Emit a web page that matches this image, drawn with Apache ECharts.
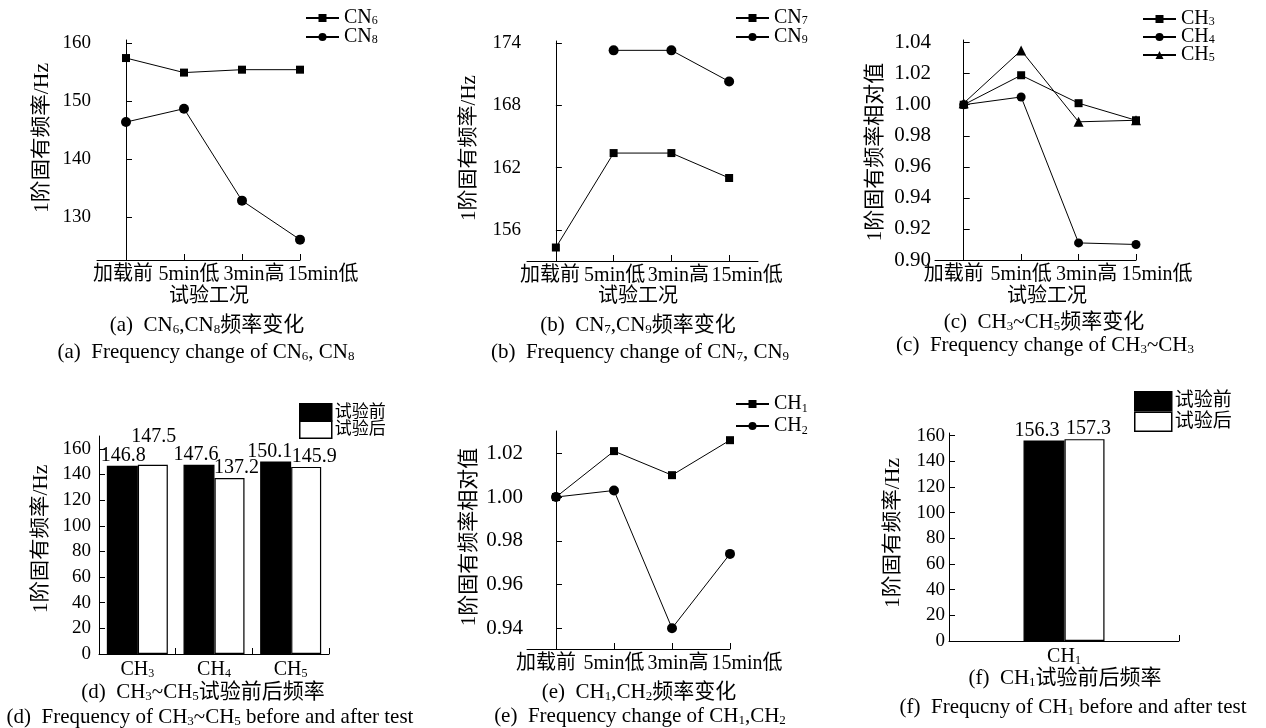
<!DOCTYPE html>
<html>
<head>
<meta charset="utf-8">
<script src="https://cdn.jsdelivr.net/npm/echarts@6/dist/echarts.min.js"></script>
<style>
  html, body { margin: 0; padding: 0; background: #fff; }
  #main { width: 1266px; height: 728px; }
</style>
</head>
<body>
<div id="main"></div>
<script>
// 试验工况
const stages = ['加载前', '5min低', '3min高', '15min低'];
// (a)
const cn6 = [157.4, 154.9, 155.4, 155.4];
const cn8 = [146.4, 148.7, 132.9, 126.2];
// (b)
const cn7 = [154.3, 163.4, 163.4, 161.0];
const cn9 = [null, 173.3, 173.3, 170.3];
// (c)
const ch3 = [1.000, 1.019, 1.001, 0.990];
const ch4 = [1.000, 1.005, 0.911, 0.910];
const ch5 = [1.001, 1.035, 0.989, 0.990];
// (d)
const barCatsD = ['CH3', 'CH4', 'CH5'];
const beforeD = [146.8, 147.6, 150.1];
const afterD = [147.5, 137.2, 145.9];
// (e)
const ch1 = [1.000, 1.021, 1.010, 1.026];
const ch2 = [1.000, 1.003, 0.940, 0.974];
// (f)
const barCatsF = ['CH1'];
const beforeF = [156.3];
const afterF = [157.3];
// tick labels
const ticksA = [130, 140, 150, 160];
const ticksB = [156, 162, 168, 174];
const ticksC = [0.90, 0.92, 0.94, 0.96, 0.98, 1.00, 1.02, 1.04];
const ticksD = [0, 20, 40, 60, 80, 100, 120, 140, 160];
const ticksE = [0.94, 0.96, 0.98, 1.00, 1.02];
const ticksF = [0, 20, 40, 60, 80, 100, 120, 140, 160];

const SERIF = "'Liberation Serif', 'Noto Sans CJK SC', serif";

// 标签的水平位移 (样式)
const stageShift = {
  a: [-3, 5, 12, 23],
  b: [-6, 1, 7, 18],
  c: [-10, 0, 8, 21],
  e: [-10, 0, 6, 17]
};
const shiftD = { before: [[1, 0], [-3, 0], [-6, 0]], after: [[1, -18], [7, 0], [8, 0]] };
const shiftF = { before: [[-7, 0]], after: [[4, 0]] };

function rich(size, lh) {
  return {
    m: { fontSize: size, fontFamily: SERIF, color: '#000', lineHeight: lh },
    s: { fontSize: Math.round(size * 0.6), fontFamily: SERIF, color: '#000', verticalAlign: 'bottom', lineHeight: Math.round(size * 0.4) }
  };
}
// 'CN_6' -> 下标
function rt(str) {
  return str.split(/_(\d)/).map((p, i) => p === '' ? '' : (i % 2 ? '{s|' + p + '}' : '{m|' + p + '}')).join('');
}
function subName(n) {
  const m = n.match(/^(\D+)(\d+)$/);
  return m ? '{m|' + m[1] + '}{s|' + m[2] + '}' : '{m|' + n + '}';
}

const myChart = echarts.init(document.getElementById('main'));

const grids = [
  { left: 97, top: 40, width: 203, height: 220 },
  { left: 527, top: 41, width: 231, height: 220 },
  { left: 935, top: 40, width: 201, height: 220 },
  { left: 99, top: 436, width: 230, height: 218 },
  { left: 527, top: 431, width: 203, height: 218 },
  { left: 949, top: 433, width: 230, height: 208 }
];

const axisLine = { show: true, lineStyle: { color: '#000', width: 1 } };

function stageAxis(idx, max, shifts) {
  const r = {};
  shifts.forEach((s, i) => {
    r['p' + i] = { fontSize: 20, fontFamily: SERIF, color: '#000',
      padding: s >= 0 ? [0, 0, 0, 2 * s] : [0, -2 * s, 0, 0] };
  });
  return {
    type: 'value', gridIndex: idx, min: -0.5, max: max,
    axisLine: axisLine,
    axisTick: { show: true, inside: true, length: 6, customValues: [0, 1, 2, 3], lineStyle: { color: '#000' } },
    axisLabel: { customValues: [0, 1, 2, 3], hideOverlap: false, margin: 5,
      formatter: v => '{p' + v + '|' + stages[v] + '}', rich: r },
    splitLine: { show: false }
  };
}
function catAxis(idx, cats) {
  return {
    type: 'category', gridIndex: idx, data: cats,
    axisLine: axisLine,
    axisTick: { show: true, inside: true, length: 6, lineStyle: { color: '#000' } },
    axisLabel: { interval: 0, hideOverlap: false, formatter: v => subName(v), margin: 6, rich: rich(20, 20) },
    splitLine: { show: false }
  };
}
function valAxis(idx, min, max, ticks, size, margin, digits) {
  return {
    type: 'value', gridIndex: idx, min: min, max: max,
    axisLine: axisLine,
    axisTick: { show: true, inside: true, length: 6, customValues: ticks, lineStyle: { color: '#000' } },
    axisLabel: { customValues: ticks, margin: margin, fontSize: size, fontFamily: SERIF, color: '#000',
      formatter: v => v.toFixed(digits) },
    splitLine: { show: false }
  };
}

function lineSeries(name, vals, idx, symbol, size) {
  return {
    type: 'line', name: name, xAxisIndex: idx, yAxisIndex: idx,
    data: vals.map((v, i) => [i, v]).filter(p => p[1] != null),
    symbol: symbol, symbolSize: size, showAllSymbol: true, clip: false,
    itemStyle: { color: '#000' },
    lineStyle: { color: '#000', width: 1 }
  };
}
function barSeries(name, vals, shifts, idx, fill, width) {
  return {
    type: 'bar', name: name, xAxisIndex: idx, yAxisIndex: idx,
    data: vals.map((v, i) => ({ value: v, label: { offset: shifts[i] } })),
    barWidth: width, barGap: '0%',
    itemStyle: { color: fill, borderColor: '#000', borderWidth: 1.2 },
    label: { show: true, position: 'top', distance: 0, fontSize: 20, fontFamily: SERIF, color: '#000' }
  };
}

function lineLegend(names, left, top, lh, gap) {
  return {
    data: names, orient: 'vertical', left: left, top: top, padding: 0,
    itemWidth: 33, itemHeight: 10, itemGap: gap, selectedMode: false,
    formatter: n => subName(n),
    textStyle: { rich: rich(20, lh) }
  };
}
function barLegend(left, top, w, h, gap, size) {
  return {
    data: ['试验前', '试验后'], orient: 'vertical', left: left, top: top, padding: 0,
    itemWidth: w, itemHeight: h, itemGap: gap, icon: 'rect', selectedMode: false,
    itemStyle: { borderColor: '#000', borderWidth: 1.5 },
    textStyle: { fontSize: size, fontFamily: SERIF, color: '#000', lineHeight: h, padding: [0, 0, 0, -2] }
  };
}

function label(text, x, y, size, rot, stretch) {
  return {
    type: 'text', x: x, y: y, rotation: rot || 0, scaleX: stretch || 1,
    style: { text: rt(text), rich: rich(size, size + 2), align: 'center', verticalAlign: 'middle' }
  };
}

const graphics = [
  label('1阶固有频率/Hz', 43, 138, 20, Math.PI / 2, 1.08),
  label('1阶固有频率/Hz', 470, 148, 20, Math.PI / 2, 1.05),
  label('1阶固有频率相对值', 875, 152, 21, Math.PI / 2),
  label('1阶固有频率/Hz', 42, 539, 20, Math.PI / 2, 1.07),
  label('1阶固有频率相对值', 469, 537, 21, Math.PI / 2),
  label('1阶固有频率/Hz', 894, 533, 20, Math.PI / 2, 1.08),
  label('试验工况', 209, 297, 20),
  label('试验工况', 638, 297, 20),
  label('试验工况', 1047, 297, 20),
  label('(a)  CN_6,CN_8频率变化', 207, 325, 21),
  label('(a)  Frequency change of CN_6, CN_8', 206, 352, 21),
  label('(b)  CN_7,CN_9频率变化', 638, 325, 21),
  label('(b)  Frequency change of CN_7, CN_9', 640, 352, 21),
  label('(c)  CH_3~CH_5频率变化', 1044, 322, 21),
  label('(c)  Frequency change of CH_3~CH_3', 1045, 345, 21),
  label('(d)  CH_3~CH_5试验前后频率', 203, 692, 21),
  label('(d)  Frequency of CH_3~CH_5 before and after test', 210, 717, 21),
  label('(e)  CH_1,CH_2频率变化', 639, 692, 21),
  label('(e)  Frequency change of CH_1,CH_2', 640, 716, 21),
  label('(f)  CH_1试验前后频率', 1065, 678, 21),
  label('(f)  Frequcny of CH_1 before and after test', 1073, 707, 21)
];

const option = {
  animation: false,
  backgroundColor: '#fff',
  grid: grids,
  xAxis: [
    stageAxis(0, 3, stageShift.a),
    stageAxis(1, 3.5, stageShift.b),
    stageAxis(2, 3, stageShift.c),
    catAxis(3, barCatsD),
    stageAxis(4, 3, stageShift.e),
    catAxis(5, barCatsF)
  ],
  yAxis: [
    valAxis(0, 122.7, 160.5, ticksA, 19, 6, 0),
    valAxis(1, 153, 174.2, ticksB, 19, 6, 0),
    valAxis(2, 0.9, 1.0417, ticksC, 21, 4, 2),
    valAxis(3, 0, 170, ticksD, 19, 8, 0),
    valAxis(4, 0.9305, 1.0302, ticksE, 21, 4, 2),
    valAxis(5, 0, 162.1, ticksF, 19, 4, 0)
  ],
  legend: [
    lineLegend(['CN6', 'CN8'], 305, 8, 18, -1),
    lineLegend(['CN7', 'CN9'], 735, 8, 18, -1),
    lineLegend(['CH3', 'CH4', 'CH5'], 1142, 9, 18, -2),
    barLegend(299, 403, 32, 17, -1, 17),
    lineLegend(['CH1', 'CH2'], 735, 394, 22, 1),
    barLegend(1134, 391, 37, 19, 0, 19)
  ],
  series: [
    lineSeries('CN6', cn6, 0, 'rect', 8),
    lineSeries('CN8', cn8, 0, 'circle', 10),
    lineSeries('CN7', cn7, 1, 'rect', 8),
    lineSeries('CN9', cn9, 1, 'circle', 10),
    lineSeries('CH3', ch3, 2, 'rect', 8),
    lineSeries('CH4', ch4, 2, 'circle', 9),
    lineSeries('CH5', ch5, 2, 'triangle', 10),
    barSeries('试验前', beforeD, shiftD.before, 3, '#000', 31),
    barSeries('试验后', afterD, shiftD.after, 3, '#fff', 30),
    lineSeries('CH1', ch1, 4, 'rect', 8),
    lineSeries('CH2', ch2, 4, 'circle', 10),
    barSeries('试验前', beforeF, shiftF.before, 5, '#000', 41),
    barSeries('试验后', afterF, shiftF.after, 5, '#fff', 40)
  ],
  graphic: graphics
};

myChart.setOption(option);
</script>
</body>
</html>
